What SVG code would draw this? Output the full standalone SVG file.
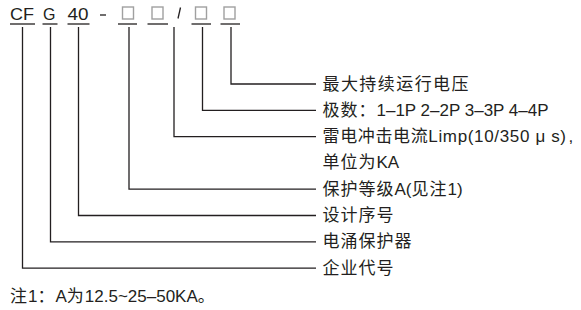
<svg xmlns="http://www.w3.org/2000/svg" width="581" height="310" viewBox="0 0 581 310">
<style>
.t{font-family:"Liberation Sans","Noto Sans CJK SC",sans-serif;font-size:17px;fill:#231f20}
.h{font-family:"Liberation Sans","Noto Sans CJK SC",sans-serif;font-size:16px;fill:#231f20}
.ln{stroke:#231f20;stroke-width:1.3;fill:none}
.box{stroke:#a0a0a0;stroke-width:1.4;fill:none}
.cj{letter-spacing:1px}
</style>
<rect width="581" height="310" fill="#fff"/>
<g id="code">
<text class="h" x="10" y="19.5" textLength="24" lengthAdjust="spacingAndGlyphs">CF</text>
<text class="h" x="43" y="19.5">G</text>
<text class="h" x="67.5" y="19.5" textLength="21" lengthAdjust="spacingAndGlyphs">40</text>
<line class="ln" x1="100" y1="15" x2="106" y2="15"/>
<rect class="box" x="122.5" y="7" width="11" height="12"/>
<rect class="box" x="152" y="7" width="11" height="12"/>
<line class="ln" x1="180.5" y1="7.5" x2="178" y2="18.5"/>
<rect class="box" x="195.5" y="7" width="11" height="12"/>
<rect class="box" x="224" y="7" width="11" height="12"/>
<line class="ln" x1="10" y1="24" x2="35" y2="24"/>
<line class="ln" x1="42.5" y1="24" x2="57.5" y2="24"/>
<line class="ln" x1="67.5" y1="24" x2="89.5" y2="24"/>
<line class="ln" x1="118" y1="24" x2="137" y2="24"/>
<line class="ln" x1="147.5" y1="24" x2="168" y2="24"/>
<line class="ln" x1="191.5" y1="24" x2="211" y2="24"/>
<line class="ln" x1="220.5" y1="24" x2="240" y2="24"/>
</g>
<g id="connectors">
<polyline class="ln" points="231,27 231,84 316,84"/>
<polyline class="ln" points="202.5,27 202.5,110.3 316,110.3"/>
<polyline class="ln" points="174,27 174,136.6 316,136.6"/>
<polyline class="ln" points="129,27 129,189.2 316,189.2"/>
<polyline class="ln" points="78.5,27 78.5,215.5 316,215.5"/>
<polyline class="ln" points="50.5,27 50.5,241.8 316,241.8"/>
<polyline class="ln" points="22.5,27 22.5,268.1 316,268.1"/>
</g>
<g id="label-voltage"><text class="t" x="322.5" y="89.5" textLength="146" lengthAdjust="spacing">最大持续运行电压</text></g>
<g id="label-poles"><text class="t" x="322.5" y="115.8"><tspan class="cj">极数：</tspan>1–1P 2–2P 3–3P 4–4P</text></g>
<g id="label-current"><text class="t" x="322.5" y="142.1" textLength="243.5" lengthAdjust="spacing">雷电冲击电流Limp(10/350 μ s)</text>
<text class="t" x="568.5" y="142.1">,</text>
<text class="t" x="322.5" y="168.4"><tspan class="cj">单位为</tspan>KA</text></g>
<g id="label-protection"><text class="t" x="322.5" y="194.7"><tspan class="cj">保护等级</tspan>A(<tspan class="cj">见注</tspan>1)</text></g>
<g id="label-design"><text class="t cj" x="322.5" y="221">设计序号</text></g>
<g id="label-spd"><text class="t cj" x="322.5" y="247.3">电涌保护器</text></g>
<g id="label-company"><text class="t cj" x="322.5" y="273.6">企业代号</text></g>
<g id="note"><text class="t" x="10" y="301.5"><tspan class="cj">注</tspan>1<tspan class="cj">：</tspan>A<tspan class="cj">为</tspan>12.5~25–50KA。</text></g>
</svg>
